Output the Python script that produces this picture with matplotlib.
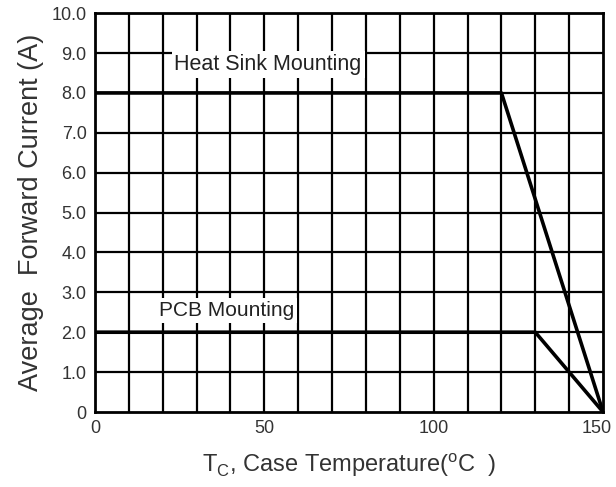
import matplotlib
matplotlib.use('Agg')
import matplotlib.pyplot as plt
import matplotlib.transforms as mtransforms

plt.rcParams['font.family'] = ['Liberation Sans', 'DejaVu Sans']

# Derating curves (case temperature in deg C, current in A)
heat_sink_temp = [0, 120, 150]
heat_sink_current = [8.0, 8.0, 0.0]
pcb_temp = [0, 130, 150]
pcb_current = [2.0, 2.0, 0.0]

x_ticks = [0, 50, 100, 150]
y_ticks = [0, 1, 2, 3, 4, 5, 6, 7, 8, 9, 10]
y_tick_labels = ['0', '1.0', '2.0', '3.0', '4.0', '5.0', '6.0', '7.0', '8.0', '9.0', '10.0']

fig = plt.figure(figsize=(6.16, 4.87), dpi=100)
ax = fig.add_axes([0.154, 0.154, 0.825, 0.819])

# grid every 10 deg C and every 1 A
for gx in range(10, 150, 10):
    ax.axvline(gx, color='black', lw=1.6, zorder=1)
for gy in range(1, 10):
    ax.axhline(gy, color='black', lw=1.6, zorder=1)

ax.plot(heat_sink_temp, heat_sink_current, color='black', lw=2.6, zorder=3)
ax.plot(pcb_temp, pcb_current, color='black', lw=2.6, zorder=3)

box = dict(facecolor='white', edgecolor='none', pad=2)
ax.text(23.5, 8.72, 'Heat Sink Mounting', fontsize=15.5, color='#222222',
        va='center', ha='left', bbox=box, zorder=2)
ax.text(19, 2.55, 'PCB Mounting', fontsize=15, color='#222222',
        va='center', ha='left', bbox=box, zorder=2)

ax.set_xlim(0, 150)
ax.set_ylim(0, 10)
ax.set_xticks(x_ticks)
ax.set_yticks(y_ticks)
ax.set_yticklabels(y_tick_labels)
ax.tick_params(length=0, labelsize=13, labelcolor='#333333', pad=6)
for s in ax.spines.values():
    s.set_linewidth(2)
    s.set_color('black')

# nudge the "150" label left so it stays inside the figure
last = ax.get_xticklabels()[-1]
last.set_transform(last.get_transform() +
                   mtransforms.ScaledTranslation(-6 / 100, 0, fig.dpi_scale_trans))

ax.set_xlabel(r'T$_\mathregular{C}$, Case Temperature($^\mathregular{o}$C  )',
              fontsize=17, color='#333333', labelpad=10)
ax.set_ylabel('Average  Forward Current (A)', fontsize=19.5, color='#333333',
              labelpad=5)

plt.savefig('out.png', dpi=100)
